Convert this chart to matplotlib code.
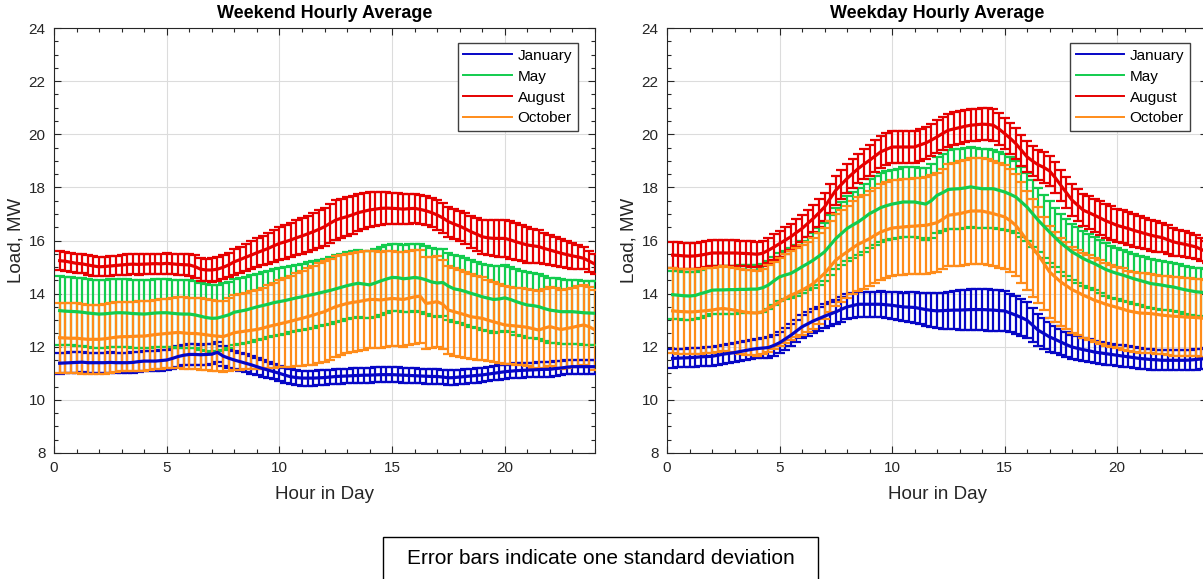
import numpy as np
import matplotlib
matplotlib.use("Agg")
import matplotlib.pyplot as plt
from matplotlib.lines import Line2D
from matplotlib.patches import Rectangle
from matplotlib.ticker import MultipleLocator

plt.rcParams['font.family'] = ['Liberation Sans', 'DejaVu Sans']

# quarter-hour time stamps (0.25 ... 24.0)
hours = np.arange(1, 97) / 4.0

months = ["January", "May", "August", "October"]
colors = ["#0606C6", "#12CC4E", "#E60000", "#FF8C1A"]

# ---------------- Weekend ----------------
we_jan_mean = [
    11.38, 11.39, 11.40, 11.41,  11.42, 11.40, 11.40, 11.40,  11.40, 11.41, 11.40, 11.40,
    11.40, 11.41, 11.44, 11.46,  11.46, 11.46, 11.48, 11.50,  11.56, 11.63, 11.68, 11.71,
    11.71, 11.70, 11.71, 11.72,  11.79, 11.65, 11.57, 11.50,  11.44, 11.38, 11.32, 11.25,
    11.18, 11.12, 11.06, 11.00,  10.93, 10.87, 10.84, 10.82,  10.82, 10.82, 10.83, 10.84,
    10.86, 10.88, 10.89, 10.90,  10.91, 10.92, 10.93, 10.93,  10.94, 10.95, 10.95, 10.95,
    10.94, 10.93, 10.92, 10.91,  10.90, 10.89, 10.88, 10.88,  10.86, 10.83, 10.84, 10.86,
    10.88, 10.90, 10.92, 10.94,  10.97, 11.00, 11.03, 11.06,  11.08, 11.10, 11.11, 11.12,
    11.13, 11.14, 11.15, 11.15,  11.18, 11.20, 11.23, 11.25,  11.25, 11.25, 11.25, 11.25]
we_jan_std = [
    0.39, 0.39, 0.39, 0.38,  0.38, 0.38, 0.38, 0.38,  0.38, 0.38, 0.38, 0.38,
    0.38, 0.38, 0.38, 0.38,  0.38, 0.38, 0.38, 0.38,  0.38, 0.38, 0.38, 0.38,
    0.38, 0.38, 0.38, 0.38,  0.38, 0.37, 0.36, 0.35,  0.34, 0.33, 0.33, 0.32,
    0.31, 0.30, 0.29, 0.29,  0.28, 0.28, 0.28, 0.28,  0.28, 0.28, 0.28, 0.28,
    0.28, 0.28, 0.28, 0.28,  0.28, 0.28, 0.28, 0.28,  0.28, 0.28, 0.28, 0.28,
    0.28, 0.28, 0.28, 0.28,  0.28, 0.28, 0.28, 0.28,  0.28, 0.28, 0.28, 0.28,
    0.27, 0.27, 0.27, 0.27,  0.27, 0.27, 0.27, 0.27,  0.27, 0.27, 0.27, 0.27,
    0.27, 0.27, 0.27, 0.27,  0.27, 0.27, 0.27, 0.27,  0.27, 0.27, 0.27, 0.27]

we_may_mean = [
    13.36, 13.34, 13.33, 13.32,  13.30, 13.27, 13.25, 13.23,  13.24, 13.26, 13.28, 13.28,
    13.27, 13.25, 13.24, 13.23,  13.25, 13.27, 13.28, 13.28,  13.26, 13.24, 13.23, 13.23,
    13.20, 13.15, 13.10, 13.07,  13.08, 13.14, 13.20, 13.30,  13.34, 13.38, 13.44, 13.50,
    13.55, 13.60, 13.66, 13.70,  13.74, 13.79, 13.84, 13.88,  13.93, 13.97, 14.02, 14.07,
    14.12, 14.18, 14.24, 14.30,  14.35, 14.39, 14.36, 14.33,  14.40, 14.48, 14.55, 14.61,
    14.60, 14.56, 14.58, 14.61,  14.58, 14.52, 14.44, 14.40,  14.42, 14.28, 14.18, 14.14,
    14.08, 14.01, 13.95, 13.88,  13.83, 13.78, 13.80, 13.84,  13.78, 13.70, 13.63, 13.57,
    13.55, 13.51, 13.44, 13.38,  13.35, 13.32, 13.32, 13.32,  13.30, 13.28, 13.27, 13.26]
we_may_std = [
    1.29, 1.29, 1.28, 1.28,  1.28, 1.28, 1.28, 1.28,  1.28, 1.28, 1.28, 1.28,
    1.28, 1.28, 1.28, 1.28,  1.28, 1.28, 1.28, 1.28,  1.27, 1.27, 1.27, 1.27,
    1.26, 1.26, 1.25, 1.25,  1.25, 1.25, 1.25, 1.25,  1.25, 1.25, 1.25, 1.25,
    1.25, 1.25, 1.25, 1.25,  1.25, 1.25, 1.25, 1.25,  1.25, 1.25, 1.25, 1.25,
    1.26, 1.26, 1.26, 1.26,  1.26, 1.26, 1.26, 1.26,  1.27, 1.27, 1.27, 1.27,
    1.27, 1.27, 1.27, 1.27,  1.27, 1.27, 1.27, 1.27,  1.26, 1.26, 1.26, 1.26,
    1.26, 1.26, 1.25, 1.25,  1.25, 1.25, 1.25, 1.25,  1.24, 1.24, 1.24, 1.23,
    1.23, 1.23, 1.22, 1.22,  1.22, 1.22, 1.21, 1.21,  1.21, 1.21, 1.20, 1.20]

we_aug_mean = [
    15.24, 15.22, 15.18, 15.14,  15.12, 15.08, 15.04, 15.01,  15.02, 15.04, 15.06, 15.08,
    15.10, 15.11, 15.10, 15.11,  15.12, 15.13, 15.12, 15.14,  15.12, 15.10, 15.09, 15.08,
    15.02, 14.92, 14.89, 14.89,  14.92, 14.99, 15.08, 15.20,  15.28, 15.37, 15.45, 15.54,
    15.62, 15.70, 15.80, 15.89,  15.95, 16.02, 16.10, 16.17,  16.25, 16.33, 16.42, 16.52,
    16.65, 16.77, 16.84, 16.90,  16.97, 17.05, 17.10, 17.15,  17.18, 17.21, 17.22, 17.21,
    17.20, 17.18, 17.20, 17.21,  17.17, 17.12, 17.05, 16.96,  16.85, 16.71, 16.62, 16.54,
    16.44, 16.33, 16.24, 16.14,  16.10, 16.08, 16.08, 16.08,  16.02, 15.95, 15.89, 15.83,
    15.80, 15.77, 15.70, 15.64,  15.58, 15.52, 15.47, 15.42,  15.38, 15.33, 15.22, 15.11]
we_aug_std = [
    0.36, 0.36, 0.36, 0.36,  0.36, 0.36, 0.36, 0.36,  0.37, 0.37, 0.37, 0.37,
    0.38, 0.38, 0.38, 0.38,  0.38, 0.38, 0.38, 0.39,  0.39, 0.40, 0.40, 0.41,
    0.42, 0.43, 0.43, 0.44,  0.45, 0.45, 0.46, 0.48,  0.49, 0.50, 0.52, 0.54,
    0.56, 0.58, 0.60, 0.62,  0.63, 0.64, 0.66, 0.68,  0.69, 0.70, 0.71, 0.72,
    0.73, 0.74, 0.74, 0.73,  0.72, 0.70, 0.68, 0.66,  0.64, 0.62, 0.60, 0.58,
    0.57, 0.56, 0.56, 0.55,  0.55, 0.55, 0.55, 0.55,  0.55, 0.56, 0.56, 0.57,
    0.58, 0.60, 0.62, 0.64,  0.66, 0.68, 0.69, 0.70,  0.70, 0.70, 0.68, 0.66,
    0.64, 0.62, 0.60, 0.58,  0.55, 0.52, 0.50, 0.48,  0.45, 0.42, 0.40, 0.38]

we_oct_mean = [
    12.34, 12.33, 12.32, 12.32,  12.30, 12.28, 12.28, 12.28,  12.30, 12.33, 12.36, 12.38,
    12.38, 12.39, 12.40, 12.40,  12.43, 12.46, 12.48, 12.50,  12.52, 12.54, 12.52, 12.50,
    12.50, 12.48, 12.45, 12.42,  12.40, 12.38, 12.45, 12.53,  12.56, 12.59, 12.62, 12.65,
    12.70, 12.76, 12.81, 12.86,  12.91, 12.96, 13.02, 13.07,  13.13, 13.19, 13.26, 13.32,
    13.42, 13.51, 13.57, 13.63,  13.67, 13.70, 13.74, 13.78,  13.78, 13.76, 13.79, 13.82,
    13.80, 13.78, 13.83, 13.88,  13.90, 13.63, 13.66, 13.70,  13.60, 13.38, 13.32, 13.26,
    13.20, 13.13, 13.10, 13.07,  13.00, 12.94, 12.88, 12.82,  12.80, 12.78, 12.76, 12.73,
    12.68, 12.63, 12.70, 12.76,  12.70, 12.65, 12.69, 12.73,  12.78, 12.82, 12.75, 12.63]
we_oct_std = [
    1.31, 1.31, 1.31, 1.31,  1.31, 1.31, 1.31, 1.31,  1.31, 1.31, 1.31, 1.31,
    1.31, 1.31, 1.31, 1.31,  1.31, 1.31, 1.31, 1.31,  1.32, 1.33, 1.34, 1.35,
    1.35, 1.35, 1.34, 1.33,  1.33, 1.34, 1.37, 1.40,  1.42, 1.44, 1.47, 1.50,
    1.53, 1.56, 1.60, 1.64,  1.68, 1.72, 1.76, 1.80,  1.83, 1.86, 1.88, 1.90,
    1.90, 1.90, 1.89, 1.88,  1.87, 1.86, 1.85, 1.84,  1.83, 1.82, 1.80, 1.79,
    1.78, 1.78, 1.77, 1.76,  1.75, 1.73, 1.71, 1.70,  1.68, 1.66, 1.65, 1.64,
    1.62, 1.60, 1.58, 1.56,  1.53, 1.51, 1.49, 1.47,  1.46, 1.45, 1.45, 1.46,
    1.47, 1.48, 1.49, 1.50,  1.50, 1.50, 1.50, 1.50,  1.50, 1.50, 1.50, 1.50]

# ---------------- Weekday ----------------
wd_jan_mean = [
    11.56, 11.57, 11.58, 11.59,  11.60, 11.62, 11.63, 11.64,  11.68, 11.72, 11.75, 11.78,
    11.82, 11.86, 11.90, 11.93,  11.95, 11.97, 12.05, 12.15,  12.29, 12.43, 12.59, 12.75,
    12.86, 12.97, 13.06, 13.15,  13.23, 13.31, 13.41, 13.50,  13.55, 13.60, 13.60, 13.60,
    13.60, 13.60, 13.58, 13.56,  13.53, 13.50, 13.49, 13.48,  13.44, 13.40, 13.37, 13.35,
    13.36, 13.37, 13.38, 13.38,  13.39, 13.40, 13.40, 13.40,  13.39, 13.38, 13.36, 13.35,
    13.27, 13.19, 13.10, 13.00,  12.81, 12.62, 12.50, 12.37,  12.28, 12.18, 12.08, 11.99,
    11.94, 11.89, 11.85, 11.80,  11.77, 11.74, 11.71, 11.68,  11.65, 11.62, 11.59, 11.56,
    11.54, 11.52, 11.51, 11.49,  11.49, 11.49, 11.49, 11.49,  11.50, 11.52, 11.54, 11.56]
wd_jan_std = [
    0.35, 0.35, 0.35, 0.35,  0.35, 0.35, 0.36, 0.36,  0.36, 0.36, 0.36, 0.36,
    0.36, 0.36, 0.37, 0.37,  0.38, 0.38, 0.39, 0.40,  0.40, 0.41, 0.42, 0.43,
    0.44, 0.44, 0.45, 0.45,  0.46, 0.46, 0.47, 0.47,  0.47, 0.48, 0.48, 0.48,
    0.48, 0.49, 0.50, 0.51,  0.52, 0.54, 0.56, 0.58,  0.60, 0.62, 0.64, 0.66,
    0.68, 0.70, 0.72, 0.74,  0.76, 0.77, 0.78, 0.78,  0.78, 0.77, 0.76, 0.75,
    0.73, 0.71, 0.69, 0.67,  0.64, 0.61, 0.58, 0.55,  0.52, 0.50, 0.48, 0.46,
    0.45, 0.44, 0.43, 0.42,  0.42, 0.41, 0.41, 0.40,  0.40, 0.40, 0.39, 0.39,
    0.39, 0.39, 0.38, 0.38,  0.38, 0.38, 0.38, 0.38,  0.38, 0.38, 0.38, 0.38]

wd_may_mean = [
    13.96, 13.94, 13.92, 13.91,  13.93, 14.00, 14.06, 14.13,  14.14, 14.14, 14.15, 14.15,
    14.16, 14.16, 14.17, 14.17,  14.22, 14.32, 14.48, 14.63,  14.70, 14.76, 14.88, 15.01,
    15.13, 15.26, 15.41, 15.57,  15.82, 16.07, 16.26, 16.45,  16.58, 16.70, 16.85, 17.01,
    17.12, 17.24, 17.31, 17.37,  17.41, 17.45, 17.45, 17.45,  17.41, 17.37, 17.50, 17.70,
    17.80, 17.92, 17.94, 17.95,  17.98, 18.02, 17.98, 17.95,  17.95, 17.95, 17.89, 17.83,
    17.74, 17.64, 17.45, 17.26,  17.01, 16.76, 16.54, 16.32,  16.11, 15.91, 15.74, 15.57,
    15.45, 15.32, 15.22, 15.13,  15.02, 14.91, 14.83, 14.76,  14.70, 14.63, 14.56, 14.50,
    14.44, 14.38, 14.35, 14.32,  14.28, 14.25, 14.20, 14.15,  14.11, 14.07, 14.05, 14.03]
wd_may_std = [
    0.90, 0.90, 0.90, 0.90,  0.90, 0.90, 0.90, 0.90,  0.90, 0.90, 0.90, 0.90,
    0.90, 0.90, 0.90, 0.90,  0.90, 0.90, 0.90, 0.90,  0.92, 0.94, 0.96, 0.98,
    1.01, 1.04, 1.07, 1.10,  1.13, 1.16, 1.19, 1.22,  1.24, 1.26, 1.28, 1.30,
    1.30, 1.30, 1.30, 1.30,  1.30, 1.30, 1.30, 1.30,  1.32, 1.35, 1.39, 1.43,
    1.46, 1.48, 1.50, 1.50,  1.50, 1.50, 1.50, 1.49,  1.48, 1.47, 1.45, 1.43,
    1.40, 1.37, 1.33, 1.29,  1.25, 1.21, 1.18, 1.15,  1.12, 1.10, 1.08, 1.06,
    1.04, 1.02, 1.01, 1.00,  1.00, 0.99, 0.98, 0.97,  0.96, 0.95, 0.94, 0.93,
    0.93, 0.92, 0.92, 0.92,  0.91, 0.91, 0.91, 0.90,  0.90, 0.90, 0.90, 0.90]

wd_aug_mean = [
    15.45, 15.44, 15.42, 15.41,  15.42, 15.45, 15.49, 15.53,  15.53, 15.53, 15.53, 15.53,
    15.52, 15.51, 15.50, 15.48,  15.52, 15.63, 15.75, 15.88,  16.01, 16.14, 16.30, 16.45,
    16.64, 16.83, 17.04, 17.26,  17.58, 17.89, 18.11, 18.33,  18.52, 18.71, 18.87, 19.02,
    19.18, 19.34, 19.43, 19.52,  19.52, 19.52, 19.52, 19.52,  19.60, 19.67, 19.78, 19.90,
    20.03, 20.15, 20.20, 20.25,  20.30, 20.34, 20.36, 20.38,  20.37, 20.34, 20.20, 20.03,
    19.85, 19.65, 19.40, 19.15,  18.99, 18.85, 18.75, 18.62,  18.37, 18.08, 17.80, 17.52,
    17.33, 17.14, 17.05, 16.95,  16.85, 16.74, 16.66, 16.57,  16.51, 16.45, 16.38, 16.32,
    16.26, 16.20, 16.15, 16.11,  16.03, 15.95, 15.90, 15.86,  15.81, 15.76, 15.66, 15.57]
wd_aug_std = [
    0.50, 0.50, 0.49, 0.49,  0.48, 0.48, 0.48, 0.48,  0.48, 0.48, 0.48, 0.48,
    0.48, 0.48, 0.48, 0.48,  0.48, 0.48, 0.49, 0.49,  0.50, 0.50, 0.50, 0.50,
    0.51, 0.51, 0.52, 0.52,  0.53, 0.54, 0.55, 0.55,  0.56, 0.56, 0.57, 0.58,
    0.59, 0.60, 0.60, 0.60,  0.60, 0.60, 0.60, 0.60,  0.60, 0.61, 0.61, 0.62,
    0.62, 0.62, 0.62, 0.61,  0.61, 0.61, 0.60, 0.60,  0.60, 0.60, 0.60, 0.59,
    0.59, 0.58, 0.58, 0.58,  0.57, 0.57, 0.57, 0.57,  0.58, 0.58, 0.58, 0.59,
    0.60, 0.61, 0.62, 0.62,  0.63, 0.63, 0.63, 0.63,  0.62, 0.62, 0.61, 0.60,
    0.59, 0.58, 0.57, 0.56,  0.54, 0.52, 0.50, 0.48,  0.46, 0.44, 0.42, 0.40]

wd_oct_mean = [
    13.35, 13.33, 13.32, 13.31,  13.32, 13.34, 13.36, 13.38,  13.42, 13.44, 13.41, 13.38,
    13.34, 13.30, 13.28, 13.27,  13.32, 13.44, 13.56, 13.69,  13.82, 13.94, 14.03, 14.13,
    14.25, 14.38, 14.57, 14.76,  15.01, 15.26, 15.42, 15.57,  15.72, 15.86, 15.96, 16.07,
    16.20, 16.32, 16.40, 16.47,  16.49, 16.51, 16.53, 16.54,  16.56, 16.57, 16.62, 16.67,
    16.80, 16.95, 16.98, 17.01,  17.06, 17.11, 17.11, 17.11,  17.06, 17.01, 16.95, 16.89,
    16.75, 16.57, 16.30, 16.00,  15.72, 15.45, 15.14, 14.82,  14.63, 14.44, 14.30, 14.15,
    14.05, 13.94, 13.85, 13.75,  13.68, 13.60, 13.54, 13.48,  13.42, 13.35, 13.31, 13.27,
    13.26, 13.25, 13.22, 13.19,  13.17, 13.15, 13.14, 13.12,  13.11, 13.10, 13.08, 13.06]
wd_oct_std = [
    1.60, 1.60, 1.60, 1.60,  1.60, 1.60, 1.60, 1.60,  1.60, 1.60, 1.60, 1.60,
    1.60, 1.60, 1.60, 1.60,  1.61, 1.62, 1.63, 1.65,  1.66, 1.67, 1.68, 1.69,
    1.70, 1.70, 1.70, 1.70,  1.71, 1.72, 1.73, 1.74,  1.75, 1.76, 1.77, 1.78,
    1.79, 1.80, 1.80, 1.80,  1.80, 1.80, 1.80, 1.80,  1.81, 1.82, 1.84, 1.86,
    1.89, 1.92, 1.95, 1.97,  1.98, 1.99, 2.00, 2.00,  1.99, 1.98, 1.97, 1.96,
    1.94, 1.92, 1.90, 1.87,  1.84, 1.80, 1.76, 1.72,  1.69, 1.66, 1.64, 1.62,
    1.61, 1.60, 1.59, 1.58,  1.57, 1.56, 1.55, 1.54,  1.53, 1.52, 1.51, 1.50,
    1.50, 1.49, 1.49, 1.48,  1.48, 1.48, 1.47, 1.47,  1.47, 1.46, 1.46, 1.45]

weekend_means = [we_jan_mean, we_may_mean, we_aug_mean, we_oct_mean]
weekend_stds = [we_jan_std, we_may_std, we_aug_std, we_oct_std]
weekday_means = [wd_jan_mean, wd_may_mean, wd_aug_mean, wd_oct_mean]
weekday_stds = [wd_jan_std, wd_may_std, wd_aug_std, wd_oct_std]

W, H = 1203, 579
fig = plt.figure(figsize=(W / 100, H / 100), dpi=100)

def px_rect(l, t, r, b):
    return [l / W, 1 - b / H, (r - l) / W, (b - t) / H]

ax1 = fig.add_axes(px_rect(54, 28, 595, 453))
ax2 = fig.add_axes(px_rect(667, 28, 1207, 453))

def draw(ax, means, stds, title):
    for m, s, c in zip(means, stds, colors):
        ax.errorbar(hours, m, yerr=s, color=c, lw=2.3, elinewidth=1.6,
                    capsize=3.6, capthick=1.6, zorder=3)
    ax.set_xlim(0, 24)
    ax.set_ylim(8, 24)
    ax.xaxis.set_major_locator(MultipleLocator(5))
    ax.xaxis.set_minor_locator(MultipleLocator(1))
    ax.yaxis.set_major_locator(MultipleLocator(2))
    ax.yaxis.set_minor_locator(MultipleLocator(0.5))
    ax.tick_params(which='both', direction='in', top=True, right=True,
                   colors='#262626', labelcolor='#262626', labelsize=11, width=0.8)
    ax.tick_params(which='major', length=5, pad=6)
    ax.tick_params(which='minor', length=3)
    ax.grid(True, which='major', color='#dcdcdc', lw=0.8, zorder=0)
    ax.set_axisbelow(True)
    for sp in ax.spines.values():
        sp.set_color('#262626')
        sp.set_linewidth(0.8)
    ax.set_title(title, fontsize=13, fontweight='bold', pad=7)
    ax.set_xlabel("Hour in Day", fontsize=13.5, color='#262626')
    ax.set_ylabel("Load, MW", fontsize=13.5, color='#262626')
    ax.xaxis.set_label_coords(0.5, -0.078)
    ax.yaxis.set_label_coords(-0.054, 0.5)
    handles = [Line2D([0], [0], color=c, lw=1.4) for c in colors]
    leg = ax.legend(handles, months, loc='upper right',
                    bbox_to_anchor=(0.9686, 0.9647), borderaxespad=0,
                    fontsize=11, frameon=True, fancybox=False,
                    handlelength=3.2, handletextpad=0.35, labelspacing=0.45,
                    borderpad=0.38)
    leg.get_frame().set_edgecolor('#404040')
    leg.get_frame().set_linewidth(1.0)
    leg.get_frame().set_alpha(1)

draw(ax1, weekend_means, weekend_stds, "Weekend Hourly Average")
draw(ax2, weekday_means, weekday_stds, "Weekday Hourly Average")

# bottom annotation box
fig.patches.append(Rectangle((383 / W, 1 - 590 / H), (818 - 383) / W, (590 - 537) / H,
                             transform=fig.transFigure, facecolor='white',
                             edgecolor='black', lw=1.0))
fig.text(600.5 / W, 1 - 559 / H, "Error bars indicate one standard deviation",
         ha='center', va='center', fontsize=15, color='black')

fig.savefig("out.png", dpi=100)
